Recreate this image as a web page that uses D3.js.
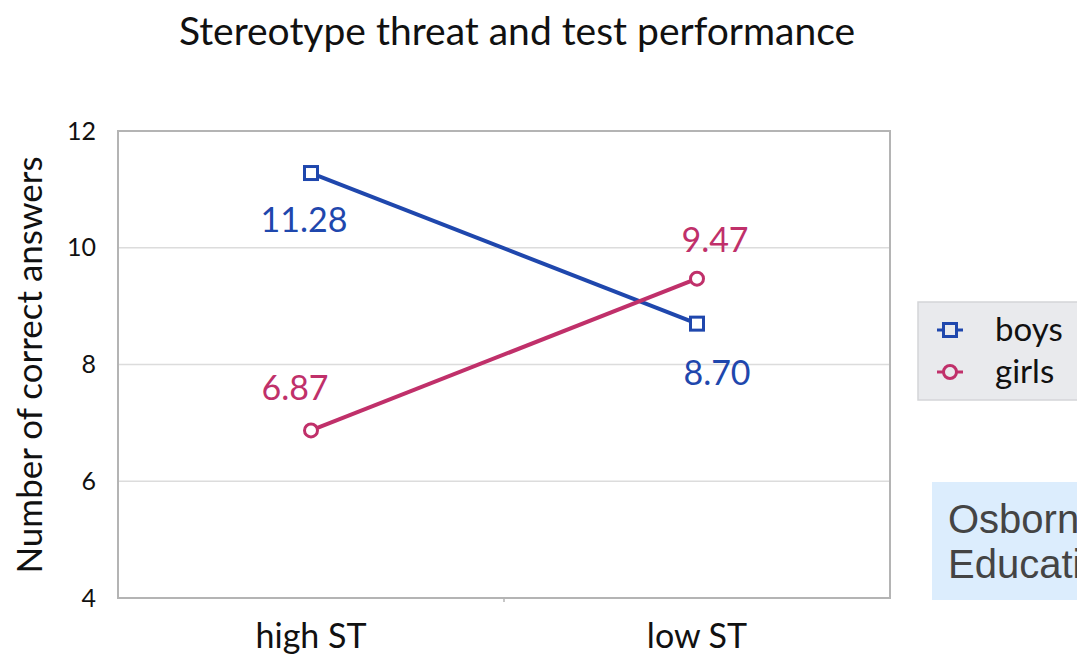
<!DOCTYPE html>
<html>
<head>
<meta charset="utf-8">
<script src="https://cdn.jsdelivr.net/npm/d3@7/dist/d3.min.js"></script>
<style>
  html, body { margin: 0; padding: 0; background: #fff; overflow: hidden; }
  svg { display: block; font-family: Lato, "Open Sans", sans-serif; }
</style>
</head>
<body>
<svg id="chart" width="1077" height="661"></svg>
<script>
// data
const categories = ['high ST', 'low ST'];
const boysValues = [11.28, 8.70];
const girlsValues = [6.87, 9.47];
const yTicks = [4, 6, 8, 10, 12];
const seriesNames = ['boys', 'girls'];

const svg = d3.select('#chart');
const plot = { left: 118, right: 890, top: 131, bottom: 598 };

const x = d3.scaleBand()
    .domain(categories)
    .range([plot.left, plot.right]);

const y = d3.scaleLinear()
    .domain([4, 12])
    .range([plot.bottom, plot.top]);

const colors = { boys: '#1f47ad', girls: '#c0306a' };

// title
svg.append('text')
    .attr('x', 517)
    .attr('y', 45)
    .attr('text-anchor', 'middle')
    .attr('font-size', 39)
    .attr('fill', '#111')
    .text('Stereotype threat and test performance');

// grid lines
svg.append('g')
    .selectAll('line')
    .data(yTicks.filter(t => t > 4 && t < 12))
    .join('line')
    .attr('x1', plot.left)
    .attr('x2', plot.right)
    .attr('y1', d => y(d))
    .attr('y2', d => y(d))
    .attr('stroke', '#dcdcdc')
    .attr('stroke-width', 1.5);

// plot frame
svg.append('rect')
    .attr('x', plot.left)
    .attr('y', plot.top)
    .attr('width', plot.right - plot.left)
    .attr('height', plot.bottom - plot.top)
    .attr('fill', 'none')
    .attr('stroke', '#b4b4b4')
    .attr('stroke-width', 2);

// y axis
const yAxis = svg.append('g')
    .attr('transform', `translate(${plot.left},0)`)
    .call(d3.axisLeft(y).tickValues(yTicks).tickSize(0).tickPadding(22).tickFormat(d3.format('d')));
yAxis.select('.domain').remove();
yAxis.selectAll('text')
    .attr('font-family', 'Lato, sans-serif')
    .attr('font-size', 25)
    .attr('fill', '#111');

// x axis
const xAxis = svg.append('g')
    .attr('transform', `translate(0,${plot.bottom})`)
    .call(d3.axisBottom(x).tickSize(0).tickPadding(26));
xAxis.select('.domain').remove();
xAxis.selectAll('text')
    .attr('font-family', 'Lato, sans-serif')
    .attr('font-size', 34)
    .attr('fill', '#111');

// small ticks at band boundaries
svg.append('g')
    .selectAll('line')
    .data(categories.slice(1))
    .join('line')
    .attr('x1', d => x(d))
    .attr('x2', d => x(d))
    .attr('y1', plot.bottom)
    .attr('y2', plot.bottom + 4)
    .attr('stroke', '#b4b4b4')
    .attr('stroke-width', 1.5);

// y label
svg.append('text')
    .attr('transform', 'translate(42,365) rotate(-90)')
    .attr('text-anchor', 'middle')
    .attr('font-size', 35)
    .attr('fill', '#111')
    .text('Number of correct answers');

const cx = d => x(d) + x.bandwidth() / 2;

const series = [
    { name: 'boys', values: boysValues, shape: 'square' },
    { name: 'girls', values: girlsValues, shape: 'circle' }
];

const line = d3.line()
    .x((d, i) => cx(categories[i]))
    .y(d => y(d));

series.forEach(s => {
    const g = svg.append('g');
    g.append('path')
        .datum(s.values)
        .attr('d', line)
        .attr('fill', 'none')
        .attr('stroke', colors[s.name])
        .attr('stroke-width', 4);

    const pts = g.selectAll('.pt')
        .data(s.values)
        .join('g')
        .attr('transform', (d, i) => `translate(${cx(categories[i])},${y(d)})`);
    if (s.shape === 'square') {
        pts.append('rect')
            .attr('x', -6.5).attr('y', -6.5)
            .attr('width', 13).attr('height', 13)
            .attr('fill', '#fff')
            .attr('stroke', colors[s.name])
            .attr('stroke-width', 3);
    } else {
        pts.append('circle')
            .attr('r', 6.5)
            .attr('fill', '#fff')
            .attr('stroke', colors[s.name])
            .attr('stroke-width', 3);
    }
});

// value labels
const labelOffsets = {
    boys: [[-7, 59], [20, 61]],
    girls: [[-16, -30], [18, -27]]
};
series.forEach(s => {
    svg.append('g')
        .selectAll('text')
        .data(s.values)
        .join('text')
        .attr('x', (d, i) => cx(categories[i]) + labelOffsets[s.name][i][0])
        .attr('y', (d, i) => y(d) + labelOffsets[s.name][i][1])
        .attr('text-anchor', 'middle')
        .attr('font-size', 34)
        .attr('fill', colors[s.name])
        .text(d => d.toFixed(2));
});

// legend
const legend = svg.append('g').attr('transform', 'translate(918,302)');
legend.append('rect')
    .attr('width', 170).attr('height', 98)
    .attr('fill', '#e9eaed')
    .attr('stroke', '#d4d5d8')
    .attr('stroke-width', 1.5);
seriesNames.forEach((name, i) => {
    const row = legend.append('g').attr('transform', `translate(32,${28 + i * 42})`);
    row.append('line')
        .attr('x1', -13).attr('x2', 13)
        .attr('stroke', colors[name]).attr('stroke-width', 3);
    if (name === 'boys') {
        row.append('rect')
            .attr('x', -6.5).attr('y', -6.5).attr('width', 13).attr('height', 13)
            .attr('fill', '#e9eaed').attr('stroke', colors[name]).attr('stroke-width', 3);
    } else {
        row.append('circle')
            .attr('r', 6.5)
            .attr('fill', '#e9eaed').attr('stroke', colors[name]).attr('stroke-width', 3);
    }
    row.append('text')
        .attr('x', 45).attr('y', 11)
        .attr('font-size', 33)
        .attr('fill', '#111')
        .text(name);
});

// citation box (cut off by the right edge, as in the original)
const cite = svg.append('g').attr('transform', 'translate(932,482)');
cite.append('rect')
    .attr('width', 160).attr('height', 118)
    .attr('fill', '#dcedfd');
cite.selectAll('text')
    .data(['Osborne (2007)', 'Educational Psychology'])
    .join('text')
    .attr('x', 16)
    .attr('y', (d, i) => 51 + i * 45)
    .attr('font-family', '"Liberation Sans", Arial, sans-serif')
    .attr('font-size', 40)
    .attr('fill', '#444')
    .text(d => d);
</script>
</body>
</html>
